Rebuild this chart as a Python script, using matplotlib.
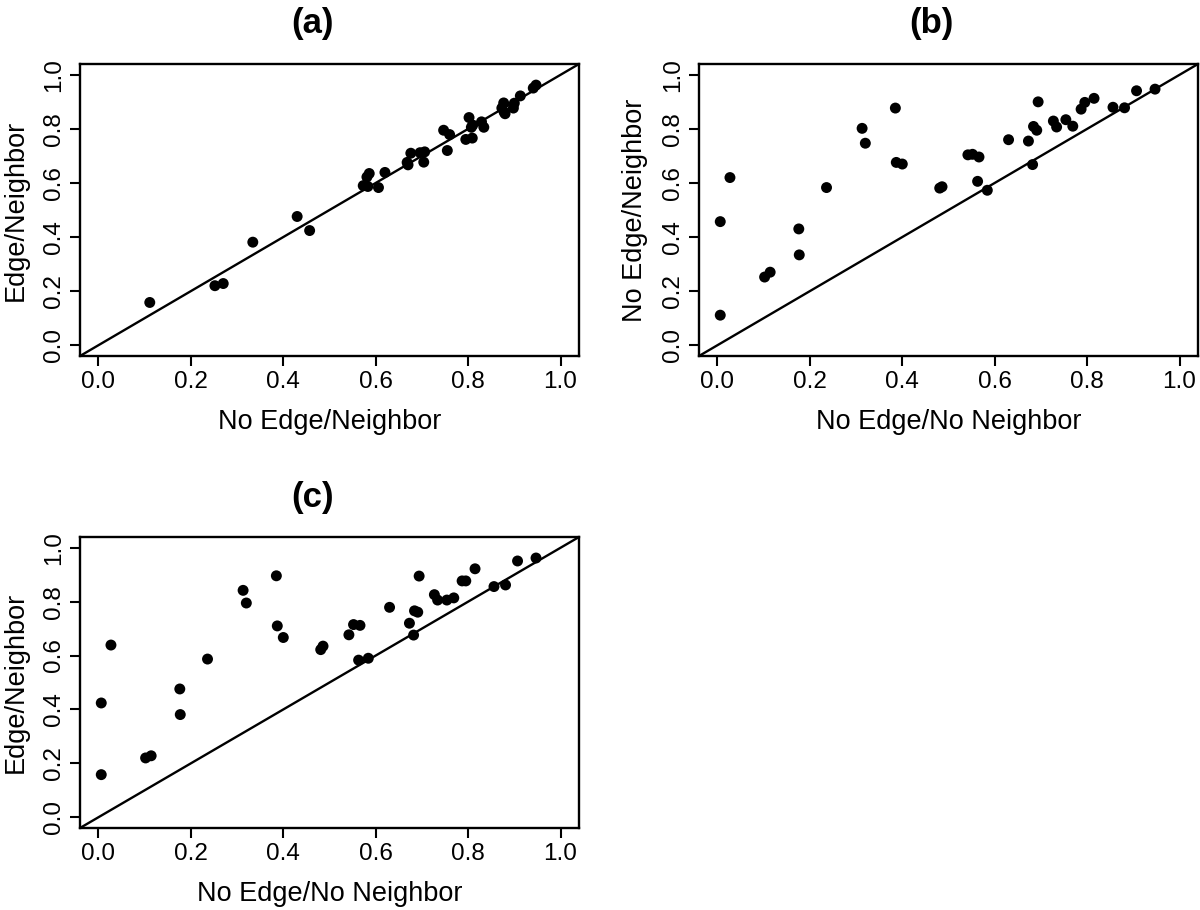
import matplotlib
matplotlib.use("Agg")
import matplotlib.pyplot as plt

plt.rcParams['font.family'] = ['Liberation Sans', 'DejaVu Sans']

# Per-site proportions
nenn = [0.006, 0.006, 0.027, 0.102, 0.114, 0.176, 0.177, 0.236, 0.313, 0.320,
        0.385, 0.387, 0.400, 0.481, 0.486, 0.542, 0.552, 0.566, 0.563, 0.584,
        0.630, 0.673, 0.682, 0.684, 0.691, 0.694, 0.727, 0.734, 0.754, 0.769,
        0.787, 0.795, 0.815, 0.856, 0.881, 0.907, 0.947]   # No Edge/No Neighbor
nen = [0.111, 0.457, 0.620, 0.252, 0.270, 0.430, 0.334, 0.583, 0.802, 0.747,
       0.877, 0.676, 0.670, 0.581, 0.586, 0.704, 0.706, 0.696, 0.606, 0.573,
       0.760, 0.755, 0.668, 0.809, 0.795, 0.900, 0.829, 0.807, 0.834, 0.810,
       0.873, 0.898, 0.913, 0.880, 0.878, 0.941, 0.947]    # No Edge/Neighbor
en = [0.158, 0.424, 0.639, 0.220, 0.228, 0.476, 0.381, 0.587, 0.842, 0.795,
      0.896, 0.710, 0.667, 0.622, 0.635, 0.677, 0.715, 0.712, 0.583, 0.590,
      0.779, 0.720, 0.676, 0.766, 0.761, 0.895, 0.826, 0.806, 0.806, 0.814,
      0.877, 0.877, 0.922, 0.856, 0.862, 0.951, 0.962]     # Edge/Neighbor

ticks = [0.0, 0.2, 0.4, 0.6, 0.8, 1.0]
tick_labels = ["0.0", "0.2", "0.4", "0.6", "0.8", "1.0"]

panels = [
    ("(a)", nen, en, "No Edge/Neighbor", "Edge/Neighbor"),
    ("(b)", nenn, nen, "No Edge/No Neighbor", "No Edge/Neighbor"),
    ("(c)", nenn, en, "No Edge/No Neighbor", "Edge/Neighbor"),
]

W, H = 1200, 910
fig = plt.figure(figsize=(W / 100, H / 100), dpi=100)

# axes boxes in pixels: left, top, right, bottom
boxes = [(80, 64, 579, 356), (699, 64, 1198, 356), (80, 537, 579, 828)]

for (title, xs, ys, xl, yl), (l, t, r, b) in zip(panels, boxes):
    ax = fig.add_axes([l / W, 1 - b / H, (r - l) / W, (b - t) / H])
    ax.scatter(xs, ys, s=62, color="black", edgecolors="none", zorder=3)
    ax.axline((0, 0), slope=1, color="black", lw=1.7, zorder=2)
    ax.set_xlim(-0.04, 1.04)
    ax.set_ylim(-0.04, 1.04)
    ax.set_xticks(ticks)
    ax.set_xticklabels(tick_labels)
    ax.set_yticks(ticks)
    ax.set_yticklabels(tick_labels, rotation=90, va="center")
    ax.tick_params(direction="out", length=7, width=1.5, labelsize=17.5,
                   pad=4, colors="black")
    for sp in ax.spines.values():
        sp.set_linewidth(1.7)
    ax.set_xlabel(xl, fontsize=19.5)
    ax.set_ylabel(yl, fontsize=19.5)
    ax.xaxis.set_label_coords(0.5, -66 / (b - t))
    ax.xaxis.label.set_va("center")
    ax.yaxis.set_label_coords(-64 / (r - l), 0.5)
    ax.yaxis.label.set_va("center")
    fig.text(((l + r) / 2 - 17) / W, 1 - (t - 40) / H, title, ha="center",
             va="center", fontsize=25, fontweight="bold")

fig.savefig("out.png", dpi=100)
